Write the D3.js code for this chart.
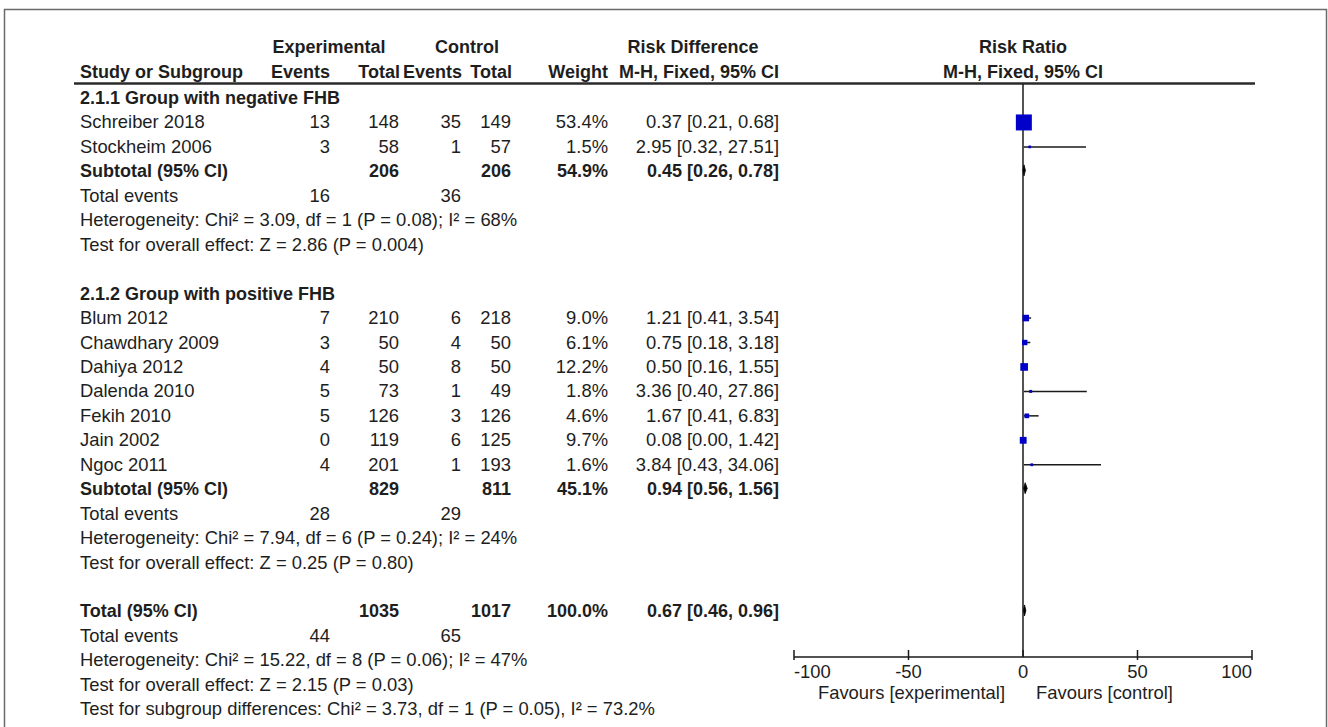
<!DOCTYPE html>
<html>
<head>
<meta charset="utf-8">
<script src="https://cdn.jsdelivr.net/npm/d3@7"></script>
<style>
  html, body { margin: 0; padding: 0; background: #fff; }
  svg { display: block; }
  text { font-family: "Liberation Sans", Arial, sans-serif; font-size: 18.4px; fill: #1e1e1e; }
  .b { font-weight: bold; font-size: 18px; }
</style>
</head>
<body>
<svg id="chart" width="1328" height="727"></svg>
<script>
// ---- Study data ----
const group1Name = "2.1.1 Group with negative FHB";
const group1Studies = ["Schreiber 2018", "Stockheim 2006"];
const group1ExpEvents = [13, 3];
const group1ExpTotal = [148, 58];
const group1CtlEvents = [35, 1];
const group1CtlTotal = [149, 57];
const group1Weight = [53.4, 1.5];
const group1RR = [0.37, 2.95];
const group1Lo = [0.21, 0.32];
const group1Hi = [0.68, 27.51];
const group1Subtotal = { exp: 206, ctl: 206, weight: 54.9, rr: 0.45, lo: 0.26, hi: 0.78, expEv: 16, ctlEv: 36 };
const group1Het = "Heterogeneity: Chi\u00B2 = 3.09, df = 1 (P = 0.08); I\u00B2 = 68%";
const group1Test = "Test for overall effect: Z = 2.86 (P = 0.004)";

const group2Name = "2.1.2 Group with positive FHB";
const group2Studies = ["Blum 2012", "Chawdhary 2009", "Dahiya 2012", "Dalenda 2010", "Fekih 2010", "Jain 2002", "Ngoc 2011"];
const group2ExpEvents = [7, 3, 4, 5, 5, 0, 4];
const group2ExpTotal = [210, 50, 50, 73, 126, 119, 201];
const group2CtlEvents = [6, 4, 8, 1, 3, 6, 1];
const group2CtlTotal = [218, 50, 50, 49, 126, 125, 193];
const group2Weight = [9.0, 6.1, 12.2, 1.8, 4.6, 9.7, 1.6];
const group2RR = [1.21, 0.75, 0.50, 3.36, 1.67, 0.08, 3.84];
const group2Lo = [0.41, 0.18, 0.16, 0.40, 0.41, 0.00, 0.43];
const group2Hi = [3.54, 3.18, 1.55, 27.86, 6.83, 1.42, 34.06];
const group2Subtotal = { exp: 829, ctl: 811, weight: 45.1, rr: 0.94, lo: 0.56, hi: 1.56, expEv: 28, ctlEv: 29 };
const group2Het = "Heterogeneity: Chi\u00B2 = 7.94, df = 6 (P = 0.24); I\u00B2 = 24%";
const group2Test = "Test for overall effect: Z = 0.25 (P = 0.80)";

const overall = { exp: 1035, ctl: 1017, weight: 100.0, rr: 0.67, lo: 0.46, hi: 0.96, expEv: 44, ctlEv: 65 };
const overallHet = "Heterogeneity: Chi\u00B2 = 15.22, df = 8 (P = 0.06); I\u00B2 = 47%";
const overallTest = "Test for overall effect: Z = 2.15 (P = 0.03)";
const subgroupTest = "Test for subgroup differences: Chi\u00B2 = 3.73, df = 1 (P = 0.05), I\u00B2 = 73.2%";

const axisTicks = [-100, -50, 0, 50, 100];
const favoursLeft = "Favours [experimental]";
const favoursRight = "Favours [control]";

// ---- Layout ----
const svg = d3.select("#chart");
const fmt2 = d3.format(".2f");
const ciText = (r, l, h) => `${fmt2(r)} [${fmt2(l)}, ${fmt2(h)}]`;

const rowY = d3.scaleLinear().domain([0, 1]).range([98, 98 + 24.45]);
const x = d3.scaleLinear().domain([-100, 100]).range([794, 1252]);
const colX = { name: 80, expEv: 330, expTot: 399, ctlEv: 461, ctlTot: 511, weight: 608, ci: 779 };
const axisY = 657;
const markColor = "#0000c8";
const sqSize = d3.scaleSqrt().domain([0, 53.4]).range([0, 16]);

// outer frame
svg.append("rect").attr("x", 4.5).attr("y", 9.5).attr("width", 1322).attr("height", 740)
  .attr("fill", "none").attr("stroke", "#6a6a6a").attr("stroke-width", 1.5);

function txt(xp, yp, s, anchor, bold) {
  svg.append("text").attr("x", xp).attr("y", yp + 6).attr("text-anchor", anchor || "start")
    .attr("class", bold ? "b" : null).text(s);
}

// headers
txt(329, 47, "Experimental", "middle", true);
txt(467, 47, "Control", "middle", true);
txt(693, 47, "Risk Difference", "middle", true);
txt(1023, 47, "Risk Ratio", "middle", true);
txt(colX.name, 72, "Study or Subgroup", "start", true);
txt(colX.expEv, 72, "Events", "end", true);
txt(colX.expTot + 1, 72, "Total", "end", true);
txt(colX.ctlEv + 1, 72, "Events", "end", true);
txt(colX.ctlTot + 1, 72, "Total", "end", true);
txt(colX.weight, 72, "Weight", "end", true);
txt(colX.ci, 72, "M-H, Fixed, 95% CI", "end", true);
txt(1023, 72, "M-H, Fixed, 95% CI", "middle", true);

// header rule
svg.append("line").attr("x1", 74).attr("x2", 1255).attr("y1", 83.5).attr("y2", 83.5)
  .attr("stroke", "#2a2a2a").attr("stroke-width", 2.5);

// zero line
svg.append("line").attr("x1", x(0)).attr("x2", x(0)).attr("y1", 84).attr("y2", axisY)
  .attr("stroke", "#1a1a1a").attr("stroke-width", 1.5);

function studyRows(startRow, names, ee, et, ce, ct, w, rr, lo, hi) {
  names.forEach((n, i) => {
    const y = rowY(startRow + i);
    txt(colX.name, y, n);
    txt(colX.expEv, y, String(ee[i]), "end");
    txt(colX.expTot, y, String(et[i]), "end");
    txt(colX.ctlEv, y, String(ce[i]), "end");
    txt(colX.ctlTot, y, String(ct[i]), "end");
    txt(colX.weight, y, w[i].toFixed(1) + "%", "end");
    txt(colX.ci, y, ciText(rr[i], lo[i], hi[i]), "end");
    // confidence interval
    svg.append("line").attr("x1", x(lo[i])).attr("x2", x(hi[i])).attr("y1", y).attr("y2", y)
      .attr("stroke", "#1a1a1a").attr("stroke-width", 1.5);
    // weighted point estimate
    const s = Math.max(sqSize(w[i]), 2.5);
    svg.append("rect").attr("x", x(rr[i]) - s / 2).attr("y", y - s / 2)
      .attr("width", s).attr("height", s).attr("fill", markColor);
  });
}

function summaryRow(row, label, d) {
  const y = rowY(row);
  txt(colX.name, y, label, "start", true);
  txt(colX.expTot, y, String(d.exp), "end", true);
  txt(colX.ctlTot, y, String(d.ctl), "end", true);
  txt(colX.weight, y, d.weight.toFixed(1) + "%", "end", true);
  txt(colX.ci, y, ciText(d.rr, d.lo, d.hi), "end", true);
  const xl = x(d.lo) - 0.6, xr = x(d.hi) + 0.6, xm = x(d.rr);
  svg.append("path")
    .attr("d", `M${xl},${y - 1} L${xm},${y - 6.5} L${xr},${y - 1} L${xm},${y + 4.5} Z`)
    .attr("fill", "#000").attr("stroke", "#000").attr("stroke-width", 0.8);
}

function eventsRow(row, d) {
  const y = rowY(row);
  txt(colX.name, y, "Total events");
  txt(colX.expEv, y, String(d.expEv), "end");
  txt(colX.ctlEv, y, String(d.ctlEv), "end");
}

// group 1
txt(colX.name, rowY(0), group1Name, "start", true);
studyRows(1, group1Studies, group1ExpEvents, group1ExpTotal, group1CtlEvents, group1CtlTotal,
  group1Weight, group1RR, group1Lo, group1Hi);
summaryRow(3, "Subtotal (95% CI)", group1Subtotal);
eventsRow(4, group1Subtotal);
txt(colX.name, rowY(5), group1Het);
txt(colX.name, rowY(6), group1Test);

// group 2
txt(colX.name, rowY(8), group2Name, "start", true);
studyRows(9, group2Studies, group2ExpEvents, group2ExpTotal, group2CtlEvents, group2CtlTotal,
  group2Weight, group2RR, group2Lo, group2Hi);
summaryRow(16, "Subtotal (95% CI)", group2Subtotal);
eventsRow(17, group2Subtotal);
txt(colX.name, rowY(18), group2Het);
txt(colX.name, rowY(19), group2Test);

// overall
summaryRow(21, "Total (95% CI)", overall);
eventsRow(22, overall);
txt(colX.name, rowY(23), overallHet);
txt(colX.name, rowY(24), overallTest);
txt(colX.name, rowY(25), subgroupTest);

// x axis
const ax = svg.append("g");
ax.append("line").attr("x1", x(-100)).attr("x2", x(100)).attr("y1", axisY).attr("y2", axisY)
  .attr("stroke", "#1a1a1a").attr("stroke-width", 1.5);
ax.selectAll("line.tick").data(axisTicks).join("line").attr("class", "tick")
  .attr("x1", d => x(d)).attr("x2", d => x(d))
  .attr("y1", axisY - 7).attr("y2", d => (d === 0 ? axisY : axisY + 3))
  .attr("stroke", "#1a1a1a").attr("stroke-width", 1.5);
ax.selectAll("text.tl").data(axisTicks).join("text").attr("class", "tl")
  .attr("x", d => x(d))
  .attr("y", axisY + 21)
  .attr("text-anchor", (d, i) => i === 0 ? "start" : i === axisTicks.length - 1 ? "end" : "middle")
  .text(d => d);
txt(1005, 693, favoursLeft, "end");
txt(1036, 693, favoursRight, "start");
</script>
</body>
</html>
